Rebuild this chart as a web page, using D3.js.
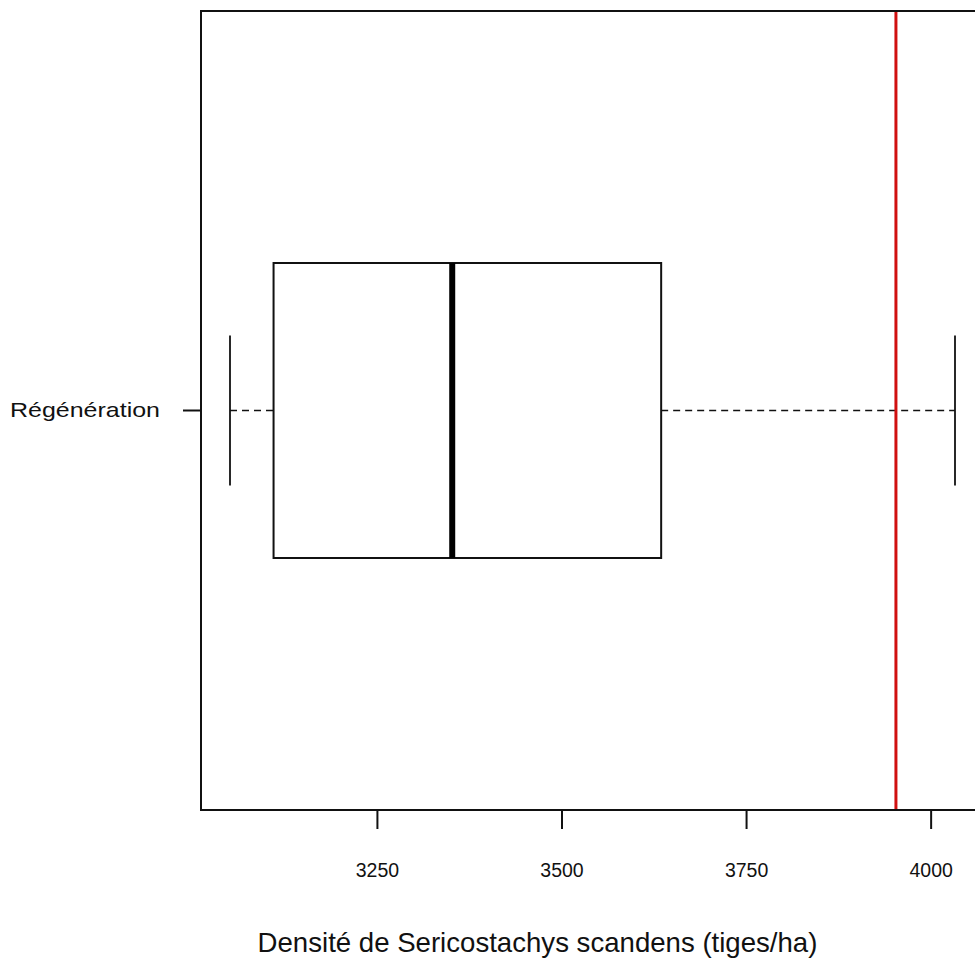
<!DOCTYPE html>
<html><head><meta charset="utf-8">
<script src="https://cdn.jsdelivr.net/npm/d3@7"></script>
<style>body{margin:0;background:#fff}svg{display:block}text{font-family:"Liberation Sans",Arial,sans-serif;fill:#111}</style>
</head><body><svg id="c" width="975" height="963"></svg>
<script>
const categories = ["Régénération"];
const whiskerLow = [3051];
const q1 = [3110];
const median = [3352];
const q3 = [3635];
const whiskerHigh = [4033];
const refValue = [3953];
const xTicks = [3250, 3500, 3750, 4000];
const xTitle = "Densité de Sericostachys scandens (tiges/ha)";

const svg = d3.select("#c");
const L = 201, R = 984, T = 11, B = 810;
const lo = d3.min(whiskerLow), hi = d3.max(whiskerHigh), pad = (hi - lo) * 0.04;
const x = d3.scaleLinear().domain([lo - pad, hi + pad]).range([L, R]);
const y = d3.scaleBand().domain(categories).range([B, T]).paddingInner(0).paddingOuter(0);
const cy = c => y(c) + y.bandwidth() / 2;
const boxH = 295, capH = 150;

categories.forEach((c, i) => {
  const yc = cy(c);
  const g = svg.append("g");
  g.append("line").attr("x1", x(whiskerLow[i])).attr("x2", x(q1[i])).attr("y1", yc).attr("y2", yc)
    .attr("stroke", "#111").attr("stroke-width", 1.6).attr("stroke-dasharray", "7,5");
  g.append("line").attr("x1", x(q3[i])).attr("x2", x(whiskerHigh[i])).attr("y1", yc).attr("y2", yc)
    .attr("stroke", "#111").attr("stroke-width", 1.6).attr("stroke-dasharray", "7,5");
  [whiskerLow[i], whiskerHigh[i]].forEach(v => g.append("line").attr("x1", x(v)).attr("x2", x(v))
    .attr("y1", yc - capH / 2).attr("y2", yc + capH / 2).attr("stroke", "#111").attr("stroke-width", 1.8));
  g.append("rect").attr("x", x(q1[i])).attr("y", yc - boxH / 2).attr("width", x(q3[i]) - x(q1[i])).attr("height", boxH)
    .attr("fill", "none").attr("stroke", "#111").attr("stroke-width", 2);
  g.append("line").attr("x1", x(median[i])).attr("x2", x(median[i])).attr("y1", yc - boxH / 2).attr("y2", yc + boxH / 2)
    .attr("stroke", "#000").attr("stroke-width", 6);
});

refValue.forEach(v => svg.append("line").attr("x1", x(v)).attr("x2", x(v)).attr("y1", T).attr("y2", B)
  .attr("stroke", "#d01010").attr("stroke-width", 3));

svg.append("rect").attr("x", L).attr("y", T).attr("width", R - L).attr("height", B - T)
  .attr("fill", "none").attr("stroke", "#111").attr("stroke-width", 2);

const xAxis = svg.append("g").attr("transform", `translate(0,${B})`)
  .call(d3.axisBottom(x).tickValues(xTicks).tickSize(19).tickPadding(34).tickFormat(d3.format("d")));
xAxis.select(".domain").remove();
xAxis.selectAll("line").attr("stroke", "#111").attr("stroke-width", 2);
xAxis.selectAll("text").attr("font-size", 19.5).attr("fill", "#111").style("font-family", "Liberation Sans, Arial, sans-serif");

const yAxis = svg.append("g").attr("transform", `translate(${L},0)`)
  .call(d3.axisLeft(y).tickSize(18).tickPadding(23));
yAxis.select(".domain").remove();
yAxis.selectAll("line").attr("stroke", "#111").attr("stroke-width", 2);
yAxis.selectAll("text").attr("font-size", 21).attr("fill", "#111")
  .attr("textLength", 150).attr("lengthAdjust", "spacingAndGlyphs")
  .style("font-family", "Liberation Sans, Arial, sans-serif");

svg.append("text").attr("x", 537.5).attr("y", 952).attr("text-anchor", "middle").attr("font-size", 27.6).text(xTitle);
</script></body></html>
